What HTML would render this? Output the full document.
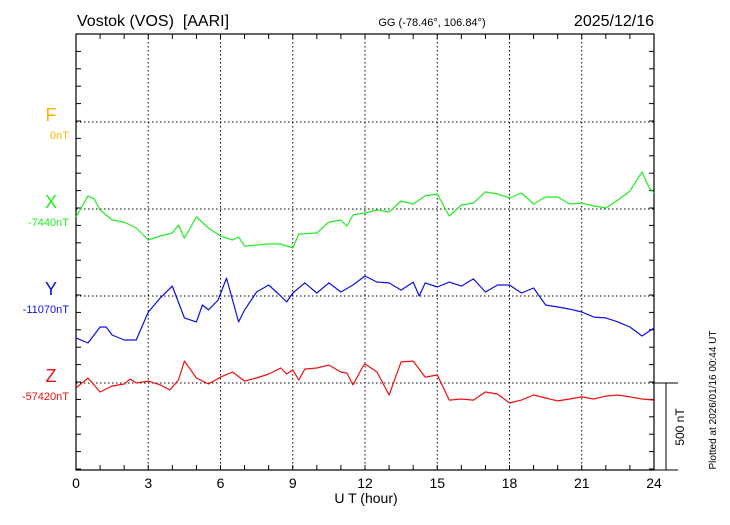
<!DOCTYPE html>
<html><head><meta charset="utf-8"><style>
body{margin:0;background:#fff;width:730px;height:520px;overflow:hidden}
svg{font-family:"Liberation Sans",sans-serif}
</style></head><body>
<svg id="chart" width="730" height="520" viewBox="0 0 730 520" xmlns="http://www.w3.org/2000/svg">
<text x="77" y="26" font-size="16" style="white-space:pre" xml:space="preserve">Vostok (VOS)  [AARI]</text>
<text x="432" y="26" font-size="11" text-anchor="middle">GG (-78.46°, 106.84°)</text>
<text x="654" y="26" font-size="16" text-anchor="end">2025/12/16</text>
<g id="grid"></g>
<g id="axes"></g>
<g id="series"></g>
<g id="labels"></g>
<text x="366" y="503" font-size="14" text-anchor="middle">U T (hour)</text>
<line x1="666" y1="383" x2="666" y2="470" stroke="#000"/>
<text transform="translate(684,427) rotate(-90)" font-size="12" text-anchor="middle">500 nT</text>
<text transform="translate(716,400) rotate(-90)" font-size="10" text-anchor="middle">Plotted at 2026/01/16 00:44 UT</text>
</svg>
<script>
const hours=[0,3,6,9,12,15,18,21,24];
const compNames=["F","X","Y","Z"];
const compBase=["0nT","-7440nT","-11070nT","-57420nT"];
const compColors=["#f5b800","#22ee22","#1010e0","#ee1010"];
const xT=[0,0.5,0.75,1,1.5,2,2.5,3,3.5,4,4.25,4.5,5,5.5,6,6.5,6.75,7,8,8.5,9,9.25,10,10.5,11,11.25,11.5,12,12.5,13,13.5,14,14.5,15,15.5,16,16.5,17,17.5,18,18.5,19,19.5,20,20.5,21,21.5,22,22.5,23,23.5,23.8,24];
const xV=[-46,75,58,-6,-63,-75,-109,-178,-155,-138,-92,-167,-46,-109,-155,-178,-161,-213,-201,-201,-224,-144,-138,-75,-63,-98,-34,-23,-6,-17,46,29,75,86,-40,23,34,98,86,63,92,29,69,69,29,34,17,6,52,103,213,121,92];
const yT=[0,0.5,1,1.25,1.5,2,2.5,3,3.5,4,4.5,5,5.25,5.5,5.9,6.25,6.75,7,7.5,8,8.5,8.75,9,9.5,10,10.5,11,11.5,12,12.5,13,13.5,14,14.25,14.5,15,15.5,16,16.5,17,17.5,18,18.5,19,19.5,20,20.5,21,21.5,22,22.5,23,23.5,24];
const yV=[-241,-270,-178,-178,-224,-253,-253,-92,-11,57,-126,-149,-52,-80,-23,103,-149,-80,23,63,0,-34,17,75,17,75,23,63,115,80,75,34,80,0,75,52,80,57,98,23,63,63,17,46,-52,-63,-75,-92,-121,-126,-149,-178,-230,-184];
const zT=[0,0.5,1,1.5,2,2.25,2.5,3,3.5,3.9,4.25,4.5,5,5.5,6,6.5,7,7.5,8,8.5,8.75,9,9.25,9.5,10,10.5,11,11.25,11.5,11.9,12,12.5,13,13.5,14,14.5,15,15.5,16,16.5,17,17.5,18,18.5,19,19.5,20,20.5,21,21.5,22,22.5,23,23.5,24];
const zV=[-29,29,-52,-17,-6,23,0,11,-11,-40,17,126,29,-6,34,63,11,29,52,86,52,75,17,80,86,103,63,57,-11,92,109,63,-69,121,126,34,46,-98,-92,-98,-52,-63,-115,-98,-69,-86,-103,-92,-80,-92,-75,-69,-80,-92,-98];
const L=76,R=654,T=34,B=470,NS="http://www.w3.org/2000/svg";
const baseY=[122,209,296,383];
const pxPerNT=17.4/100;
const xs=h=>L+(R-L)*h/24;
const ys=(i,v)=>baseY[i]-v*pxPerNT;
function mk(tag,attrs,parent){const e=document.createElementNS(NS,tag);for(const k in attrs)e.setAttribute(k,attrs[k]);parent.appendChild(e);return e;}
const grid=document.getElementById('grid'),axes=document.getElementById('axes'),ser=document.getElementById('series'),lab=document.getElementById('labels');
hours.slice(1,-1).forEach(h=>{const l=mk('line',{x1:xs(h),y1:T,x2:xs(h),y2:B,stroke:'#000','stroke-dasharray':'1.5,2.5','stroke-width':1},grid);

});
baseY.forEach(y=>{const l=mk('line',{x1:L,y1:y,x2:R,y2:y,stroke:'#000','stroke-dasharray':'1.5,2.5','stroke-width':1},grid);

});
const fr=mk('rect',{x:L,y:T,width:R-L,height:B-T,fill:'none',stroke:'#000','stroke-width':1.2},axes);


for(let h=1;h<24;h++){mk('line',{x1:xs(h),y1:T,x2:xs(h),y2:T+5,stroke:'#000'},axes);mk('line',{x1:xs(h),y1:B,x2:xs(h),y2:B-5,stroke:'#000'},axes);}
for(let y=T+17.4;y<B-1;y+=17.4){mk('line',{x1:L,y1:y,x2:L+5,y2:y,stroke:'#000'},axes);mk('line',{x1:R,y1:y,x2:R-5,y2:y,stroke:'#000'},axes);}
mk('line',{x1:R,y1:383,x2:678,y2:383,stroke:'#000'},axes);
mk('line',{x1:R,y1:470,x2:678,y2:470,stroke:'#000'},axes);
hours.forEach(h=>{const t=mk('text',{x:xs(h),y:488,'font-size':14,'text-anchor':'middle'},lab);t.textContent=h;

});
compNames.forEach((n,i)=>{const a=mk('text',{x:51,y:baseY[i]-1,'font-size':18,'text-anchor':'middle',fill:compColors[i]},lab);a.textContent=n;


const b=mk('text',{x:69,y:baseY[i]+17,'font-size':11,'text-anchor':'end',fill:compColors[i]},lab);b.textContent=compBase[i];

});
[[xT,xV,1,'x-series'],[yT,yV,2,'y-series'],[zT,zV,3,'z-series']].forEach(([t,v,i,nm])=>{
const pts=t.map((h,k)=>xs(h).toFixed(1)+','+ys(i,v[k]).toFixed(1)).join(' ');
const p=mk('polyline',{points:pts,fill:'none',stroke:compColors[i],'stroke-width':1.2,'stroke-linejoin':'round'},ser);

});
</script>
</body></html>
